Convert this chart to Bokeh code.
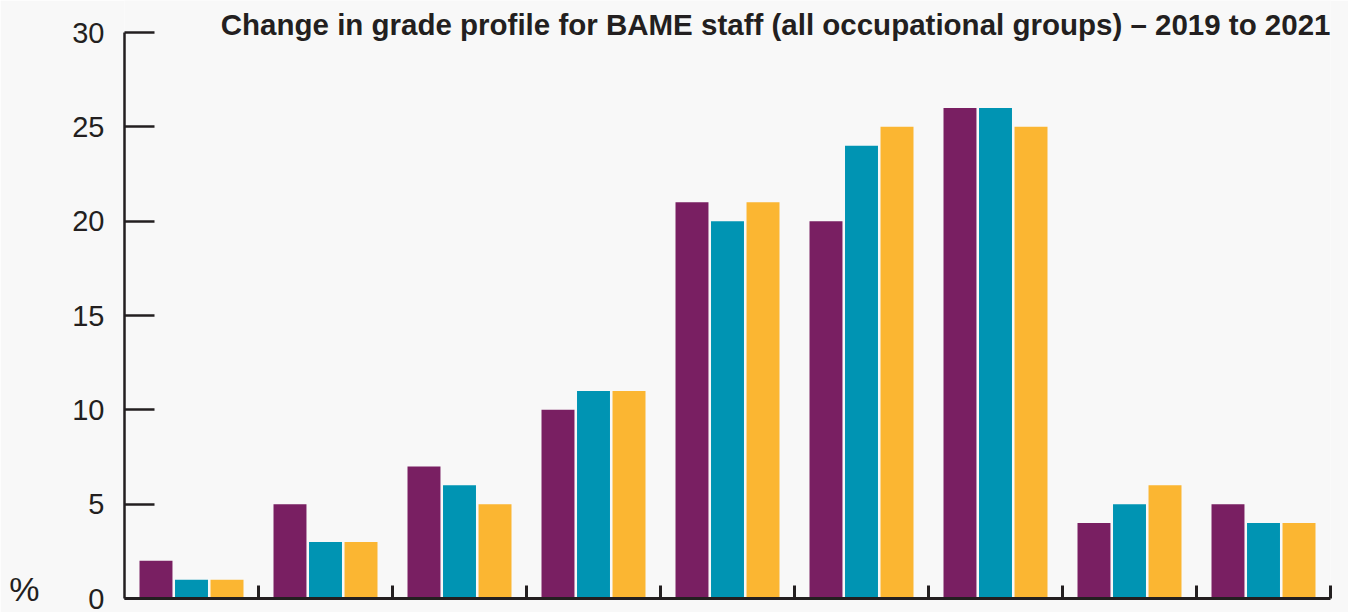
from bokeh.plotting import figure
from bokeh.models import Range1d, FixedTicker, Label, ColumnDataSource, LinearAxis
from bokeh.embed import file_html
from bokeh.resources import INLINE
from bokeh.transform import dodge

grades = [1, 2, 3, 4, 5, 6, 7, 8, 9]
s2019 = [2, 5, 7, 10, 21, 20, 26, 4, 5]
s2020 = [1, 3, 6, 11, 20, 24, 26, 5, 4]
s2021 = [1, 3, 5, 11, 21, 25, 25, 6, 4]
y_ticks = [0, 5, 10, 15, 20, 25, 30]
colors = ["#791F62", "#0094B3", "#FBB632"]
title_text = "Change in grade profile for BAME staff (all occupational groups) \u2013 2019 to 2021"
unit_label = "%"

x = [g - 0.5 for g in grades]
src = ColumnDataSource(dict(x=x, a=s2019, b=s2020, c=s2021))

# frame: left 124, right 1330, top 0, bottom 598 ; value 30 at y=32
px_per_unit = 566 / 30
p = figure(width=1348, height=612, output_backend="svg", toolbar_location=None,
           x_range=Range1d(0, 9), y_range=Range1d(0, 30 + 32 / px_per_unit),
           min_border_left=124, min_border_right=18, min_border_top=0, min_border_bottom=14)
p.background_fill_color = "#F8F8F8"
p.border_fill_color = "#F8F8F8"
p.outline_line_color = None
p.grid.visible = False

w = 0.246
off = 0.265
for col, dx, c in [("a", -off, colors[0]), ("b", 0, colors[1]), ("c", off, colors[2])]:
    p.vbar(x=dodge("x", dx, range=p.x_range), top=col, width=w, bottom=0,
           source=src, fill_color=c, line_color=None)

ya = p.yaxis[0]
ya.ticker = FixedTicker(ticks=y_ticks)
ya.bounds = (0, 30)
ya.major_tick_in = 30
ya.major_tick_out = 0
ya.minor_tick_line_color = None
ya.axis_line_color = "#231F20"
ya.major_tick_line_color = "#231F20"
ya.axis_line_width = 2.5
ya.major_tick_line_width = 2.5
ya.major_label_text_font = "Liberation Sans"
ya.major_label_text_font_size = "29px"
ya.major_label_text_color = "#231F20"
ya.major_label_standoff = 20

# extra left axis carrying only the unit label "%" beside the 0 label
ua = LinearAxis(ticker=FixedTicker(ticks=[0]), major_label_overrides={0: unit_label},
                axis_line_color=None, major_tick_line_color=None, minor_tick_line_color=None,
                major_tick_in=0, major_tick_out=0, major_label_standoff=30,
                major_label_text_font="Liberation Sans", major_label_text_font_size="34px",
                major_label_text_color="#231F20")
p.add_layout(ua, "left")

xa = p.xaxis[0]
xa.ticker = FixedTicker(ticks=grades)
xa.major_label_overrides = {g: "" for g in grades}
xa.major_tick_in = 13
xa.major_tick_out = 0
xa.minor_tick_line_color = None
xa.axis_line_color = "#231F20"
xa.major_tick_line_color = "#231F20"
xa.axis_line_width = 3
xa.major_tick_line_width = 3
xa.major_label_standoff = 0

p.add_layout(Label(x=1206, y=574, x_units="screen", y_units="screen", text=title_text,
                   text_align="right", text_baseline="alphabetic",
                   text_font="Liberation Sans", text_font_style="bold",
                   text_font_size="29.5px", text_color="#231F20"))

open("out.html", "w").write(file_html(p, INLINE))
